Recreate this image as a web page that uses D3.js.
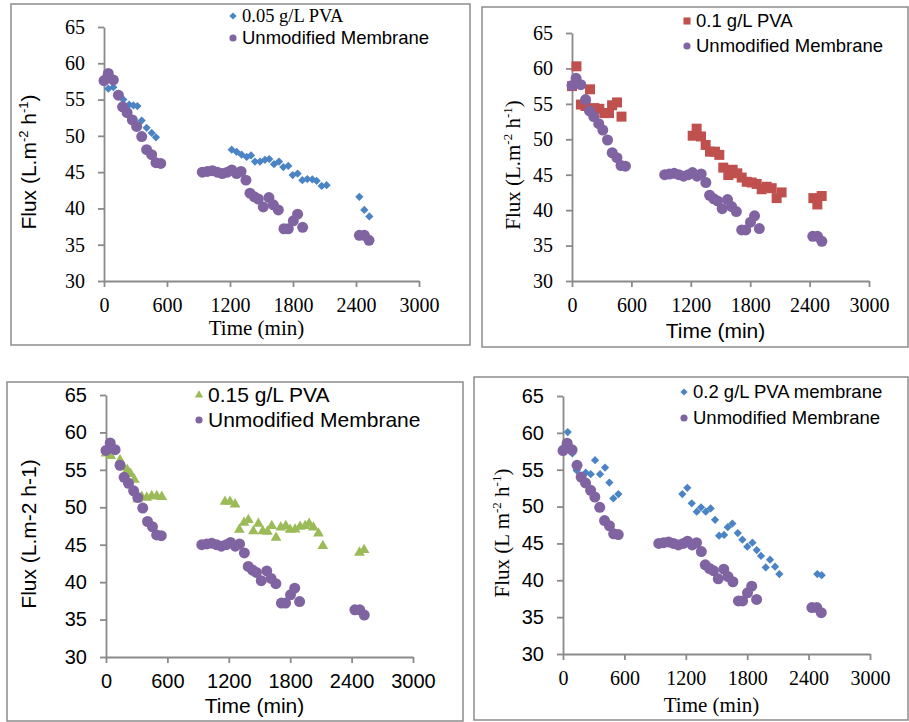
<!DOCTYPE html>
<html>
<head>
<meta charset="utf-8">
<script src="https://cdn.jsdelivr.net/npm/d3@7"></script>
<style>
  body { margin: 0; background: #fff; }
</style>
</head>
<body>
<svg id="chart" width="909" height="722"></svg>
<script>
// ---- data ----
var yTicks = [30, 35, 40, 45, 50, 55, 60, 65];
var xTicks = [0, 600, 1200, 1800, 2400, 3000];

// unmodified membrane, same in every panel
var unmodTime = [0, 41, 89, 137, 177, 220, 270, 311, 359, 406, 454, 495, 540,
  936, 984, 1032, 1079, 1127, 1175, 1217, 1263, 1305, 1352, 1390, 1432, 1470, 1517, 1571, 1613, 1660, 1714, 1755, 1803, 1844, 1892,
  2432, 2480, 2524];
var unmodFlux = [57.6, 58.6, 57.7, 55.6, 54.0, 53.2, 52.2, 51.3, 49.9, 48.1, 47.4, 46.3, 46.2,
  45.0, 45.1, 45.2, 45.0, 44.8, 45.0, 45.3, 44.8, 45.1, 43.9, 42.1, 41.6, 41.3, 40.2, 41.5, 40.5, 39.8, 37.2, 37.2, 38.3, 39.2, 37.4,
  36.3, 36.3, 35.6];

var pva005Time = [0, 41, 89, 137, 184, 240, 280, 318, 359, 406, 454, 495,
  1216, 1263, 1311, 1359, 1400, 1438, 1486, 1533, 1574, 1619, 1667, 1708, 1755, 1797, 1844, 1889, 1936, 1984, 2025, 2073, 2120,
  2432, 2479, 2527];
var pva005Flux = [58.0, 56.5, 56.7, 55.8, 55.0, 54.3, 54.2, 54.1, 52.1, 51.1, 50.4, 49.8,
  48.1, 47.8, 47.4, 47.1, 47.3, 46.45, 46.45, 46.7, 46.8, 46.1, 46.45, 45.7, 45.85, 44.6, 44.8, 43.9, 44.05, 44.0, 43.8, 43.1, 43.2,
  41.6, 39.8, 38.9];

var pva01Time = [0, 45, 90, 137, 182, 225, 276, 326, 374, 405, 455, 500,
  1219, 1259, 1303, 1350, 1394, 1444, 1488, 1528, 1579, 1623, 1670, 1714, 1765, 1815, 1865, 1916, 1966, 2017, 2067, 2117,
  2438, 2478, 2522];
var pva01Flux = [57.5, 60.3, 54.9, 54.7, 57.05, 54.4, 54.3, 53.7, 53.7, 54.8, 55.2, 53.2,
  50.5, 51.5, 50.4, 49.2, 48.25, 48.25, 47.8, 46.0, 44.95, 45.7, 45.2, 44.6, 44.0, 43.9, 43.7, 42.95, 43.3, 43.1, 41.7, 42.5,
  41.7, 40.8, 42.0];

var pva015Time = [0, 46, 137, 170, 208, 241, 277, 310, 349, 398, 447, 496, 545,
  1163, 1212, 1261, 1303, 1349, 1391, 1440, 1489, 1532, 1577, 1620, 1662, 1708, 1757, 1799, 1848, 1897, 1946, 1985, 2027, 2076, 2119,
  2477, 2522];
var pva015Flux = [57.2, 56.85, 56.3, 55.4, 55.0, 54.45, 53.7, 51.1, 51.4, 51.3, 51.5, 51.5, 51.4,
  50.75, 50.75, 50.4, 47.0, 47.95, 48.3, 46.8, 47.8, 46.8, 46.75, 47.5, 45.95, 47.3, 47.5, 47.0, 47.05, 47.4, 47.5, 47.8, 47.3, 46.5, 44.85,
  43.95, 44.3];

var pva02Time = [0, 46, 91, 134, 222, 271, 313, 362, 411, 453, 492, 541,
  1166, 1215, 1258, 1307, 1349, 1395, 1443, 1486, 1525, 1574, 1610, 1655, 1708, 1753, 1801, 1851, 1893, 1935, 1981, 2023, 2072, 2114,
  2485, 2528];
var pva02Flux = [58.0, 60.1, 57.2, 54.9, 54.6, 54.4, 56.3, 54.4, 55.3, 53.25, 51.1, 51.7,
  51.7, 52.55, 50.45, 49.3, 49.9, 49.3, 49.75, 48.2, 46.05, 46.15, 47.2, 47.7, 46.4, 45.5, 44.55, 45.1, 44.1, 43.3, 41.75, 42.8, 41.85, 40.85,
  40.85, 40.7];

var seriesNames = ["0.05 g/L PVA", "0.1 g/L PVA", "0.15 g/L PVA", "0.2 g/L PVA membrane"];
var unmodName = "Unmodified Membrane";

var SERIF = "'Liberation Serif', 'Times New Roman', serif",
    SANS = "'Liberation Sans', Arial, sans-serif";
var purple = "#8064a2";

function zip(t, f) { return t.map(function(d, i) { return {t: d, f: f[i]}; }); }

var panels = [
  {frame: [11, 4, 470, 345], x: [104, 419], y: [281, 27], time: pva005Time, flux: pva005Flux, name: seriesNames[0],
   color: "#4a84c4", shape: "diamond",
   yTickFont: SERIF, xTickFont: SERIF, yTitleFont: SANS, xTitleFont: SERIF, yTitle: "sup", yTitleX: 29, xTitleY: 335,
   legFont1: SERIF, legFont2: SANS, legSize: 18.5, legX: 233, legY: [16, 38]},
  {frame: [482, 7, 908, 347], x: [572, 869], y: [281, 33], time: pva01Time, flux: pva01Flux, name: seriesNames[1],
   color: "#c0504d", shape: "square",
   yTickFont: SERIF, xTickFont: SERIF, yTitleFont: SERIF, xTitleFont: SANS, yTitle: "sup", yTitleX: 513, xTitleY: 338,
   legFont1: SANS, legFont2: SANS, legSize: 18.5, legX: 687, legY: [21, 46]},
  {frame: [7, 382, 463, 721], x: [106, 413], y: [657, 395], time: pva015Time, flux: pva015Flux, name: seriesNames[2],
   color: "#9bbb59", shape: "triangle",
   yTickFont: SANS, xTickFont: SANS, yTitleFont: SANS, xTitleFont: SANS, yTitle: "plain", yTitleX: 29, xTitleY: 713,
   legFont1: SANS, legFont2: SANS, legSize: 21, legX: 199, legY: [395, 420]},
  {frame: [474, 377, 908, 720], x: [563, 870], y: [654, 396], time: pva02Time, flux: pva02Flux, name: seriesNames[3],
   color: "#4a84c4", shape: "diamond",
   yTickFont: SANS, xTickFont: SERIF, yTitleFont: SERIF, xTitleFont: SERIF, yTitle: "space", yTitleX: 502, xTitleY: 712,
   legFont1: SANS, legFont2: SANS, legSize: 18.5, legX: 684, legY: [392, 418]}
];

var svg = d3.select("#chart");

function symbolPath(shape, big) {
  if (shape === "diamond") return d3.symbol().type(d3.symbolSquare).size(big ? 34 : 26)();
  if (shape === "square") return d3.symbol().type(d3.symbolSquare).size(big ? 100 : 50)();
  if (shape === "triangle") return d3.symbol().type(d3.symbolTriangle).size(big ? 50 : 30)();
  return d3.symbol().type(d3.symbolCircle).size(big ? 95 : 40)();
}
function symbolRot(shape) { return shape === "diamond" ? " rotate(45)" : ""; }

panels.forEach(function(p) {
  var g = svg.append("g");

  g.append("rect")
    .attr("x", p.frame[0]).attr("y", p.frame[1])
    .attr("width", p.frame[2] - p.frame[0]).attr("height", p.frame[3] - p.frame[1])
    .attr("fill", "#fff").attr("stroke", "#8c8c8c").attr("stroke-width", 1.5);

  var x = d3.scaleLinear().domain([0, 3000]).range(p.x);
  var y = d3.scaleLinear().domain([30, 65]).range(p.y);

  var yAxis = g.append("g")
    .attr("transform", "translate(" + p.x[0] + ",0)")
    .call(d3.axisLeft(y).tickValues(yTicks).tickFormat(d3.format("d")).tickSize(6).tickSizeOuter(0).tickPadding(13));
  var xAxis = g.append("g")
    .attr("transform", "translate(0," + p.y[0] + ")")
    .call(d3.axisBottom(x).tickValues(xTicks).tickFormat(d3.format("d")).tickSize(6).tickSizeOuter(0));

  [yAxis, xAxis].forEach(function(a) {
    a.select(".domain").attr("stroke", "#8a8a8a").attr("stroke-width", 1.8);
    a.selectAll(".tick line").attr("stroke", "#8a8a8a").attr("stroke-width", 1.8);
    a.selectAll(".tick text").attr("fill", "#000").attr("font-size", 20);
  });
  yAxis.selectAll(".tick text").attr("font-family", p.yTickFont);
  xAxis.selectAll(".tick text").attr("font-family", p.xTickFont).attr("y", 31).attr("dy", null);

  // axis titles
  var cx = (p.x[0] + p.x[1]) / 2;
  g.append("text")
    .attr("x", cx - 5).attr("y", p.xTitleY)
    .attr("text-anchor", "middle")
    .attr("font-family", p.xTitleFont).attr("font-size", 21)
    .text("Time (min)");

  var cy = (p.y[0] + p.y[1]) / 2 + 8;
  var yt = g.append("text")
    .attr("transform", "translate(" + p.yTitleX + "," + cy + ") rotate(-90)")
    .attr("text-anchor", "middle").attr("dy", "0.35em")
    .attr("font-family", p.yTitleFont).attr("font-size", 21);
  if (p.yTitle === "plain") {
    yt.text("Flux (L.m-2 h-1)");
  } else {
    var parts = p.yTitle === "space"
      ? [["Flux (L m", 0], ["-2", 1], [" h", 0], ["-1", 1], [")", 0]]
      : [["Flux (L.m", 0], ["-2", 1], [" h", 0], ["-1", 1], [")", 0]];
    var prevSup = 0;
    parts.forEach(function(pt) {
      var ts = yt.append("tspan").text(pt[0]);
      if (pt[1]) ts.attr("font-size", 13).attr("dy", -8);
      else if (prevSup) ts.attr("dy", 8);
      prevSup = pt[1];
    });
  }

  // points: modified series first, unmodified on top
  g.append("g").selectAll("path")
    .data(zip(p.time, p.flux))
    .join("path")
      .attr("transform", function(d) { return "translate(" + x(d.t) + "," + y(d.f) + ")" + symbolRot(p.shape); })
      .attr("d", symbolPath(p.shape, true))
      .attr("fill", p.color);

  g.append("g").selectAll("path")
    .data(zip(unmodTime, unmodFlux))
    .join("path")
      .attr("transform", function(d) { return "translate(" + x(d.t) + "," + y(d.f) + ")"; })
      .attr("d", symbolPath("circle", true))
      .attr("fill", purple);

  // legend
  var leg = g.append("g");
  [[p.name, p.color, p.shape, p.legFont1], [unmodName, purple, "circle", p.legFont2]].forEach(function(e, i) {
    leg.append("path")
      .attr("transform", "translate(" + p.legX + "," + p.legY[i] + ")" + symbolRot(e[2]))
      .attr("d", symbolPath(e[2], false))
      .attr("fill", e[1]);
    leg.append("text")
      .attr("x", p.legX + 9).attr("y", p.legY[i])
      .attr("dy", "0.35em")
      .attr("font-family", e[3]).attr("font-size", p.legSize)
      .text(e[0]);
  });
});
</script>
</body>
</html>
